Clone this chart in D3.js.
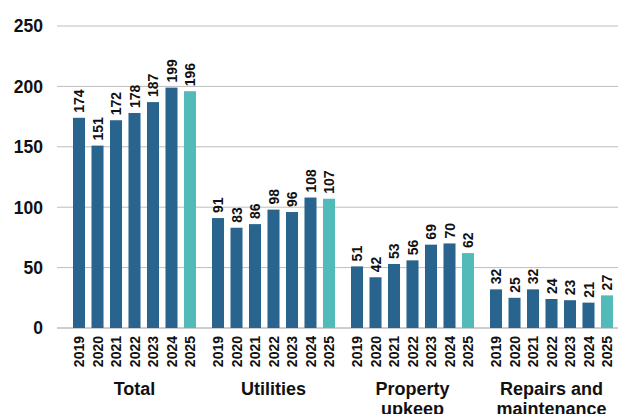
<!DOCTYPE html>
<html>
<head>
<meta charset="utf-8">
<script src="https://cdn.jsdelivr.net/npm/d3@7"></script>
<style>
  html, body { margin: 0; padding: 0; background: #fff; }
  svg { display: block; font-family: "Liberation Sans", Arial, sans-serif; }
</style>
</head>
<body>
<svg id="chart" width="618" height="414"></svg>
<script>
// Spending categories and yearly values
const groups = ["Total", "Utilities", "Property upkeep", "Repairs and maintenance"];
const years = ["2019", "2020", "2021", "2022", "2023", "2024", "2025"];
const totalValues = [174, 151, 172, 178, 187, 199, 196];
const utilitiesValues = [91, 83, 86, 98, 96, 108, 107];
const upkeepValues = [51, 42, 53, 56, 69, 70, 62];
const repairsValues = [32, 25, 32, 24, 23, 21, 27];
const yTicks = [0, 50, 100, 150, 200, 250];

const seriesByGroup = [totalValues, utilitiesValues, upkeepValues, repairsValues];
const rows = [];
groups.forEach((g, gi) => {
  years.forEach((yr, yi) => rows.push({ group: g, year: yr, value: seriesByGroup[gi][yi] }));
});

const svg = d3.select("#chart");
const baseY = 328, topY = 26;
const gridLeft = 57, gridRight = 618;

const y = d3.scaleLinear().domain([0, 250]).range([baseY, topY]);
const x0 = d3.scaleBand().domain(groups).range([65, 621]);
const x1 = d3.scaleBand().domain(years).range([8, 131]).paddingInner(0.35).paddingOuter(0);

const darkBlue = "#28648e";
const teal = "#52bab8";

// Horizontal gridlines
svg.append("g").selectAll("line").data(yTicks).join("line")
  .attr("x1", gridLeft).attr("x2", gridRight)
  .attr("y1", d => y(d)).attr("y2", d => y(d))
  .attr("stroke", "#bdbdbd").attr("stroke-width", d => d === 0 ? 1.5 : 1);

// Y-axis tick labels
svg.append("g").selectAll("text").data(yTicks).join("text")
  .attr("x", 43).attr("y", d => y(d)).attr("dy", "0.36em")
  .attr("text-anchor", "end")
  .attr("font-size", 17.5).attr("font-weight", "bold").attr("fill", "#111")
  .text(d => d);

const bx = d => x0(d.group) + x1(d.year);

// Bars
svg.append("g").selectAll("rect").data(rows).join("rect")
  .attr("x", bx).attr("width", x1.bandwidth())
  .attr("y", d => y(d.value)).attr("height", d => y(0) - y(d.value))
  .attr("fill", d => d.year === "2025" ? teal : darkBlue);

// Value labels, rotated above each bar
svg.append("g").selectAll("text").data(rows).join("text")
  .attr("transform", d => `translate(${bx(d) + x1.bandwidth() / 2},${y(d.value) - 5}) rotate(-90)`)
  .attr("dy", "0.36em")
  .attr("text-anchor", "start")
  .attr("font-size", 14).attr("font-weight", "bold").attr("fill", "#111")
  .text(d => d.value);

// Year labels under each bar
svg.append("g").selectAll("text").data(rows).join("text")
  .attr("transform", d => `translate(${bx(d) + x1.bandwidth() / 2},${baseY + 8}) rotate(-90)`)
  .attr("dy", "0.36em")
  .attr("text-anchor", "end")
  .attr("font-size", 14).attr("font-weight", "bold").attr("fill", "#111")
  .text(d => d.year);

// Group labels, wrapped onto two lines where needed
const groupLines = {
  "Total": ["Total"],
  "Utilities": ["Utilities"],
  "Property upkeep": ["Property", "upkeep"],
  "Repairs and maintenance": ["Repairs and", "maintenance"]
};
const gl = svg.append("g").selectAll("text").data(groups).join("text")
  .attr("x", g => x0(g) + (x1.range()[0] + x1.range()[1]) / 2)
  .attr("y", 395)
  .attr("text-anchor", "middle")
  .attr("font-size", 18).attr("font-weight", "bold").attr("fill", "#111");
gl.each(function (g) {
  const t = d3.select(this);
  groupLines[g].forEach((line, i) => {
    t.append("tspan").attr("x", t.attr("x")).attr("dy", i === 0 ? 0 : 20).text(line);
  });
});
</script>
</body>
</html>
